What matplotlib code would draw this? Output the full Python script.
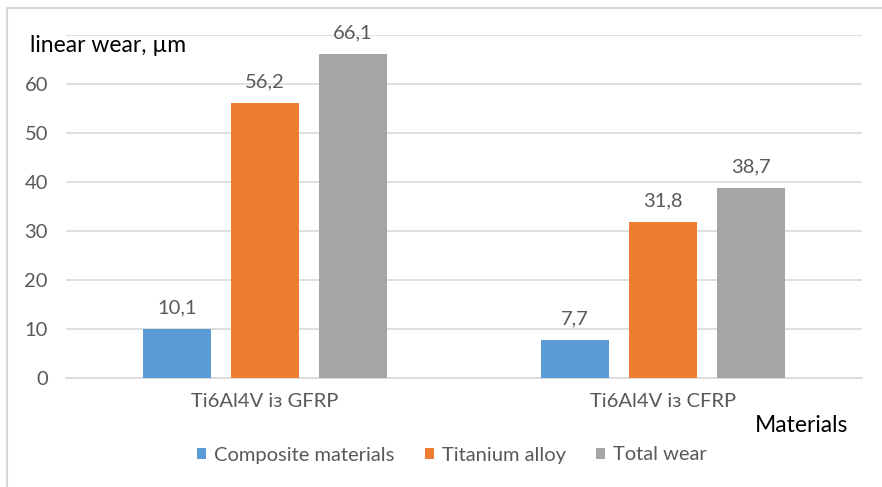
import matplotlib
matplotlib.use("Agg")
import matplotlib.pyplot as plt
from matplotlib.patches import Patch
from matplotlib.lines import Line2D
import numpy as np

plt.rcParams['font.family'] = ['Lato', 'DejaVu Sans']

categories = ["Ti6Al4V із GFRP", "Ti6Al4V із CFRP"]
series_names = ["Composite materials", "Titanium alloy", "Total wear"]
composite = [10.1, 7.7]
titanium = [56.2, 31.8]
total = [66.1, 38.7]
y_ticks = [0, 10, 20, 30, 40, 50, 60, 70]
y_tick_labels = ["0", "10", "20", "30", "40", "50", "60", ""]

colors = ["#5B9BD5", "#ED7D31", "#A5A5A5"]
text_gray = "#595959"
grid_gray = "#D9D9D9"

fig = plt.figure(figsize=(8.82, 4.87), dpi=100)
ax = fig.add_axes([66 / 882, 1 - 378 / 487, 796 / 882, 343 / 487])

x = np.arange(len(categories))
width = 0.173
step = 0.221
for i, (vals, col) in enumerate(zip([composite, titanium, total], colors)):
    pos = x + (i - 1) * step
    bars = ax.bar(pos, vals, width=width, color=col, zorder=3)
    for b, v in zip(bars, vals):
        ax.annotate(f"{v:.1f}".replace(".", ","),
                    xy=(b.get_x() + b.get_width() / 2, v),
                    xytext=(0, 9), textcoords="offset points",
                    ha="center", va="bottom", fontsize=14.5, color=text_gray)

ax.set_xlim(-0.5, 1.5)
ax.set_ylim(0, 70)
ax.set_yticks(y_ticks)
ax.set_yticklabels(y_tick_labels)
ax.set_xticks(x)
ax.set_xticklabels(categories)
ax.grid(axis="y", color=grid_gray, linewidth=1.2, zorder=0)
for s in ["top", "right", "left"]:
    ax.spines[s].set_visible(False)
ax.spines["bottom"].set_color(grid_gray)
ax.spines["bottom"].set_linewidth(1.2)
ax.tick_params(axis="both", length=0, colors=text_gray, labelsize=14.5)
ax.tick_params(axis="y", pad=13)
ax.tick_params(axis="x", pad=11)

fig.text(30 / 882, 1 - 45 / 487, "linear wear, µm", fontsize=16.5,
         color="black", va="center", ha="left")
fig.text(755 / 882, 1 - 426 / 487, "Materials", fontsize=16.5,
         color="black", va="center", ha="left")

handles = [Patch(facecolor=c, edgecolor="none") for c in colors]
fig.legend(handles, series_names, loc="center", ncol=3,
           bbox_to_anchor=(452 / 882, 1 - 455 / 487), frameon=False,
           fontsize=14.5, labelcolor=text_gray, handlelength=0.45,
           handleheight=0.45, handletextpad=0.4, columnspacing=1.5)

# outer chart frame (left and top edges)
fig.add_artist(Line2D([7 / 882, 7 / 882], [0, 1 - 8 / 487],
                      transform=fig.transFigure, color=grid_gray, linewidth=1.5))
fig.add_artist(Line2D([7 / 882, 1], [1 - 8 / 487, 1 - 8 / 487],
                      transform=fig.transFigure, color=grid_gray, linewidth=1.5))

fig.savefig("out.png", dpi=100, facecolor="white")
